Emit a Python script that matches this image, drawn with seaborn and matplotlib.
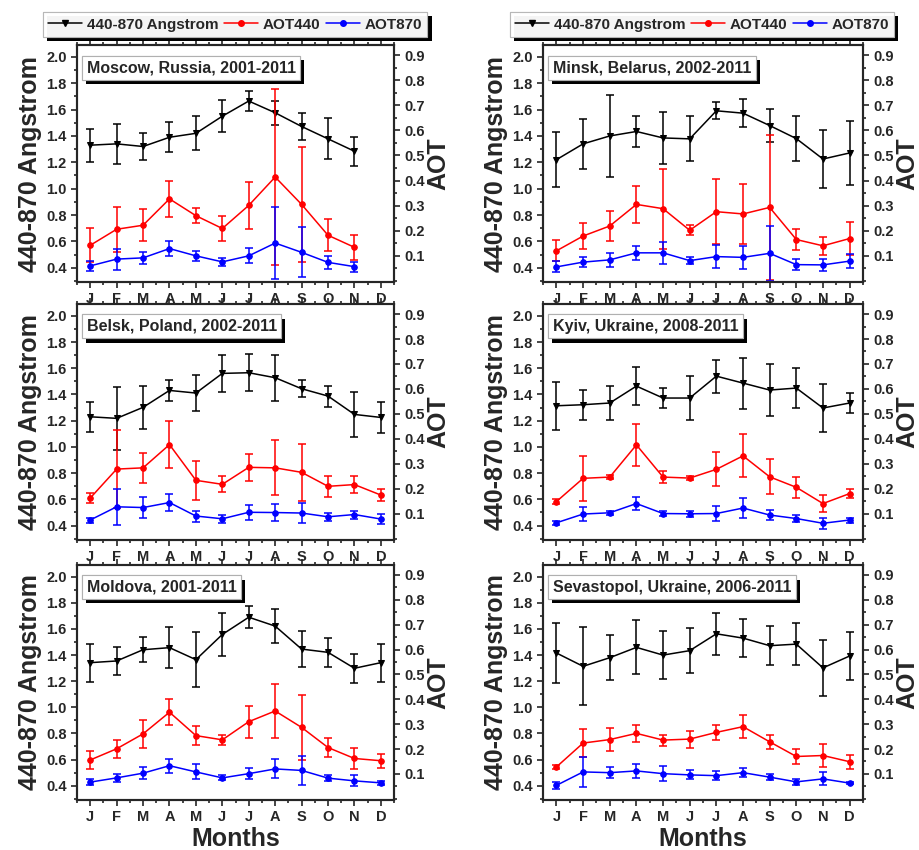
import numpy as np
import matplotlib
matplotlib.use("Agg")
import matplotlib.pyplot as plt
import matplotlib.patheffects as pe
from matplotlib.lines import Line2D
from matplotlib.ticker import MultipleLocator
import seaborn as sns

sns.set_style("ticks")
plt.rcParams["font.family"] = ["Liberation Sans", "DejaVu Sans"]
plt.rcParams["font.weight"] = "bold"

MONTHS = ["J", "F", "M", "A", "M", "J", "J", "A", "S", "O", "N", "D"]
STATIONS = ["Moscow, Russia, 2001-2011", "Minsk, Belarus, 2002-2011",
            "Belsk, Poland, 2002-2011", "Kyiv, Ukraine, 2008-2011",
            "Moldova, 2001-2011", "Sevastopol, Ukraine, 2006-2011"]

# 440-870 Angstrom exponent (mean, std) per month; Moscow has no December value
ang_moscow = [1.33, 1.34, 1.32, 1.39, 1.42, 1.55, 1.665, 1.576, 1.472, 1.378, 1.284, np.nan]
ang_moscow_sd = [0.125, 0.15, 0.10, 0.115, 0.13, 0.12, 0.075, 0.09, 0.10, 0.155, 0.11, np.nan]
ang_minsk = [1.22, 1.34, 1.40, 1.434, 1.385, 1.378, 1.591, 1.573, 1.479, 1.38, 1.225, 1.271]
ang_minsk_sd = [0.21, 0.19, 0.31, 0.115, 0.20, 0.17, 0.063, 0.108, 0.128, 0.17, 0.222, 0.24]
ang_belsk = [1.23, 1.218, 1.302, 1.431, 1.411, 1.561, 1.566, 1.528, 1.444, 1.388, 1.248, 1.225]
ang_belsk_sd = [0.113, 0.24, 0.166, 0.083, 0.14, 0.14, 0.143, 0.176, 0.065, 0.08, 0.174, 0.12]
ang_kyiv = [1.314, 1.322, 1.335, 1.464, 1.373, 1.373, 1.54, 1.487, 1.434, 1.449, 1.297, 1.335]
ang_kyiv_sd = [0.184, 0.113, 0.127, 0.146, 0.075, 0.165, 0.126, 0.195, 0.196, 0.15, 0.18, 0.073]
ang_moldova = [1.342, 1.355, 1.441, 1.457, 1.365, 1.558, 1.69, 1.622, 1.446, 1.421, 1.299, 1.342]
ang_moldova_sd = [0.145, 0.105, 0.097, 0.155, 0.21, 0.168, 0.085, 0.131, 0.14, 0.11, 0.112, 0.145]
ang_sevastopol = [1.416, 1.314, 1.38, 1.459, 1.40, 1.434, 1.563, 1.53, 1.472, 1.484, 1.302, 1.393]
ang_sevastopol_sd = [0.23, 0.30, 0.173, 0.207, 0.185, 0.17, 0.16, 0.144, 0.15, 0.16, 0.212, 0.184]

# AOT at 440 nm (mean, std)
aot440_moscow = [0.142, 0.206, 0.222, 0.327, 0.260, 0.209, 0.301, 0.414, 0.305, 0.182, 0.134, np.nan]
aot440_moscow_sd = [0.068, 0.089, 0.063, 0.073, 0.031, 0.051, 0.094, 0.35, 0.23, 0.063, 0.05, np.nan]
aot440_minsk = [0.120, 0.179, 0.219, 0.305, 0.288, 0.202, 0.276, 0.267, 0.293, 0.165, 0.140, 0.169]
aot440_minsk_sd = [0.042, 0.052, 0.061, 0.073, 0.16, 0.019, 0.13, 0.119, 0.29, 0.043, 0.035, 0.065]
aot440_belsk = [0.163, 0.279, 0.284, 0.377, 0.234, 0.218, 0.286, 0.284, 0.266, 0.210, 0.217, 0.175]
aot440_belsk_sd = [0.021, 0.155, 0.061, 0.094, 0.077, 0.032, 0.054, 0.11, 0.115, 0.042, 0.034, 0.025]
aot440_kyiv = [0.149, 0.242, 0.247, 0.376, 0.247, 0.243, 0.278, 0.332, 0.248, 0.206, 0.141, 0.181]
aot440_kyiv_sd = [0.009, 0.091, 0.007, 0.085, 0.025, 0.007, 0.068, 0.086, 0.07, 0.042, 0.034, 0.019]
aot440_moldova = [0.156, 0.201, 0.261, 0.348, 0.254, 0.237, 0.310, 0.353, 0.287, 0.206, 0.162, 0.153]
aot440_moldova_sd = [0.035, 0.037, 0.056, 0.052, 0.039, 0.021, 0.064, 0.108, 0.13, 0.038, 0.043, 0.028]
aot440_sevastopol = [0.128, 0.224, 0.238, 0.263, 0.236, 0.240, 0.267, 0.290, 0.229, 0.170, 0.174, 0.149]
aot440_sevastopol_sd = [0.009, 0.056, 0.045, 0.035, 0.022, 0.034, 0.031, 0.045, 0.029, 0.032, 0.045, 0.029]

# AOT at 870 nm (mean, std)
aot870_moscow = [0.060, 0.087, 0.092, 0.129, 0.100, 0.076, 0.100, 0.151, 0.114, 0.074, 0.057, np.nan]
aot870_moscow_sd = [0.021, 0.042, 0.023, 0.03, 0.019, 0.017, 0.03, 0.144, 0.1, 0.025, 0.02, np.nan]
aot870_minsk = [0.056, 0.075, 0.084, 0.112, 0.112, 0.081, 0.097, 0.094, 0.110, 0.065, 0.064, 0.079]
aot870_minsk_sd = [0.022, 0.021, 0.027, 0.027, 0.045, 0.015, 0.046, 0.046, 0.11, 0.022, 0.023, 0.029]
aot870_belsk = [0.075, 0.128, 0.125, 0.145, 0.091, 0.080, 0.106, 0.105, 0.103, 0.088, 0.097, 0.079]
aot870_belsk_sd = [0.010, 0.073, 0.043, 0.035, 0.022, 0.016, 0.031, 0.035, 0.039, 0.015, 0.016, 0.019]
aot870_kyiv = [0.064, 0.099, 0.104, 0.141, 0.101, 0.100, 0.101, 0.123, 0.095, 0.081, 0.062, 0.075]
aot870_kyiv_sd = [0.007, 0.029, 0.007, 0.025, 0.009, 0.013, 0.029, 0.041, 0.02, 0.013, 0.021, 0.010]
aot870_moldova = [0.067, 0.084, 0.103, 0.133, 0.108, 0.084, 0.101, 0.120, 0.114, 0.083, 0.072, 0.064]
aot870_moldova_sd = [0.012, 0.016, 0.023, 0.028, 0.03, 0.010, 0.021, 0.038, 0.057, 0.011, 0.022, 0.009]
aot870_sevastopol = [0.054, 0.108, 0.105, 0.112, 0.101, 0.096, 0.093, 0.105, 0.087, 0.068, 0.080, 0.063]
aot870_sevastopol_sd = [0.015, 0.06, 0.022, 0.029, 0.029, 0.018, 0.017, 0.019, 0.012, 0.011, 0.026, 0.005]

PANELS = [
    (ang_moscow, ang_moscow_sd, aot440_moscow, aot440_moscow_sd, aot870_moscow, aot870_moscow_sd),
    (ang_minsk, ang_minsk_sd, aot440_minsk, aot440_minsk_sd, aot870_minsk, aot870_minsk_sd),
    (ang_belsk, ang_belsk_sd, aot440_belsk, aot440_belsk_sd, aot870_belsk, aot870_belsk_sd),
    (ang_kyiv, ang_kyiv_sd, aot440_kyiv, aot440_kyiv_sd, aot870_kyiv, aot870_kyiv_sd),
    (ang_moldova, ang_moldova_sd, aot440_moldova, aot440_moldova_sd, aot870_moldova, aot870_moldova_sd),
    (ang_sevastopol, ang_sevastopol_sd, aot440_sevastopol, aot440_sevastopol_sd,
     aot870_sevastopol, aot870_sevastopol_sd),
]

x = np.arange(1, 13)
SHADOW = [pe.withSimplePatchShadow(offset=(3, -3), shadow_rgbFace="black", alpha=1.0), pe.Normal()]


def draw_series(ax, y, sd, color, marker, ms):
    sns.lineplot(x=x, y=y, ax=ax, color=color, marker=marker, markersize=ms,
                 markeredgecolor=color, linewidth=1.1, legend=False)
    ax.errorbar(x, y, yerr=sd, fmt="none", ecolor=color, elinewidth=1.1, capsize=3, capthick=1.1)


fig = plt.figure(figsize=(9.19, 8.5), dpi=100)
lefts = [0.0838, 0.591]
widths = [0.345, 0.348]
bottoms = [0.668, 0.3647, 0.0588]
heights = [0.279, 0.2776, 0.2765]

for i, (ang, ang_sd, a440, a440_sd, a870, a870_sd) in enumerate(PANELS):
    r, c = divmod(i, 2)
    ax = fig.add_axes([lefts[c], bottoms[r], widths[c], heights[r]])
    ax2 = ax.twinx()

    draw_series(ax, ang, ang_sd, "black", "v", 5)
    draw_series(ax2, a440, a440_sd, "red", "o", 4)
    draw_series(ax2, a870, a870_sd, "blue", "o", 4)

    ax.set_xlim(0.5, 12.5)
    ax.set_ylim(0.29, 2.09)
    ax2.set_ylim(-0.005, 0.94)
    ax.set_xticks(x)
    ax.set_xticklabels(MONTHS)
    ax.xaxis.set_minor_locator(MultipleLocator(0.5))
    ax.set_yticks(np.arange(0.4, 2.01, 0.2))
    ax.yaxis.set_minor_locator(MultipleLocator(0.1))
    ax2.set_yticks(np.arange(0.1, 0.91, 0.1))
    ax2.yaxis.set_minor_locator(MultipleLocator(0.05))
    ax.tick_params(axis="both", which="both", direction="out", width=1.2, labelsize=10.5, top=True)
    ax.tick_params(which="major", length=4)
    ax.tick_params(which="minor", length=2.5)
    ax.tick_params(axis="x", which="major", pad=3)
    ax2.tick_params(axis="y", which="both", direction="out", width=1.2, labelsize=10.5)
    ax2.tick_params(which="major", length=4)
    ax2.tick_params(which="minor", length=2.5)
    for a in (ax, ax2):
        for s in a.spines.values():
            s.set_linewidth(1.5)
            s.set_visible(True)
        for lab in a.get_xticklabels() + a.get_yticklabels():
            lab.set_fontweight("bold")
    ax.set_xlabel("Months" if r == 2 else None, fontsize=18, fontweight="bold", labelpad=2)
    ax.set_ylabel("440-870 Angstrom", fontsize=18, fontweight="bold", labelpad=3)
    ax2.set_ylabel("AOT", fontsize=18, fontweight="bold", labelpad=1)

    t = ax.text(0.03, 0.905, STATIONS[i], transform=ax.transAxes, fontsize=11.5, fontweight="bold",
                va="center", ha="left", zorder=10,
                bbox=dict(boxstyle="square,pad=0.28", facecolor="white", edgecolor="#b0b0b0", linewidth=0.8))
    t.get_bbox_patch().set_path_effects(SHADOW)

handles = [
    Line2D([], [], color="black", marker="v", markersize=5, linewidth=1.1, label="440-870 Angstrom"),
    Line2D([], [], color="red", marker="o", markersize=4, linewidth=1.1, label="AOT440"),
    Line2D([], [], color="blue", marker="o", markersize=4, linewidth=1.1, label="AOT870"),
]
for cx in (0.256, 0.764):
    leg = fig.legend(handles=handles, loc="center", bbox_to_anchor=(cx, 0.971), ncol=3,
                     frameon=True, fancybox=False, handlelength=2.2,
                     handletextpad=0.3, columnspacing=0.4, borderpad=0.35,
                     prop={"weight": "bold", "size": 11})
    leg.get_frame().set_edgecolor("#b0b0b0")
    leg.get_frame().set_linewidth(0.8)
    leg.get_frame().set_path_effects(SHADOW)

fig.savefig("out.png", dpi=100)
plt.close(fig)
